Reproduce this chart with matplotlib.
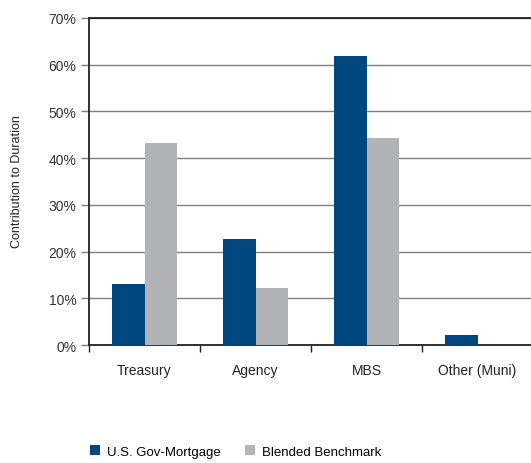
import matplotlib
matplotlib.use("Agg")
import matplotlib.pyplot as plt
import numpy as np
from matplotlib.patches import Patch
from matplotlib import font_manager

names = {f.name for f in font_manager.fontManager.ttflist}
fam = ["Liberation Sans Narrow"] if "Liberation Sans Narrow" in names else ["Liberation Sans"]
plt.rcParams['font.family'] = fam + ["DejaVu Sans"]

categories = ["Treasury", "Agency", "MBS", "Other (Muni)"]
gov_mortgage = [13.1, 22.7, 61.9, 2.1]
blended = [43.3, 12.2, 44.3, 0.0]
series_names = ["U.S. Gov-Mortgage", "Blended Benchmark"]
blue = "#00467f"
gray = "#b2b3b6"

fig = plt.figure(figsize=(5.31, 4.64), dpi=100)
ax = fig.add_axes([89/531, 118/464, 444/531, 327/464])

x = np.arange(len(categories))
w = 0.29
ax.bar(x - w/2, gov_mortgage, w, color=blue, zorder=3)
ax.bar(x + w/2, blended, w, color=gray, zorder=3)

ax.set_xlim(-0.5, len(categories) - 0.5)
ax.set_ylim(0, 70)
ax.set_yticks(np.arange(0, 71, 10))
ax.set_yticklabels([f"{v}%" for v in range(0, 71, 10)], fontsize=10, color="#333333")
ax.yaxis.grid(True, color="#7f7f7f", linewidth=1.0, zorder=0)

ax.set_xticks(x)
ax.set_xticklabels(categories, fontsize=10, color="#222222")
ax.tick_params(axis='x', length=0, pad=13)
ax.set_xticks(np.arange(len(categories)) - 0.5, minor=True)
ax.tick_params(axis='x', which='minor', length=5, width=1, color="#222222")
ax.tick_params(axis='y', length=6, width=1, color="#7f7f7f", pad=3)

for s in ["left", "bottom", "top"]:
    ax.spines[s].set_color("#222222")
    ax.spines[s].set_linewidth(1.3)
ax.spines["right"].set_visible(False)

fig.text(17/531, 1 - 182/464, "Contribution to Duration", rotation=90,
         ha="center", va="center", fontsize=9, color="#222222")

handles = [Patch(facecolor=blue), Patch(facecolor=gray)]
fig.legend(handles, series_names, loc="lower left", bbox_to_anchor=(82/531, -0.006),
           borderaxespad=0.2, ncol=2, frameon=False, fontsize=9.5, handlelength=0.8,
           handleheight=0.8, handletextpad=0.5, columnspacing=1.8)

fig.savefig("out.png", dpi=100)
